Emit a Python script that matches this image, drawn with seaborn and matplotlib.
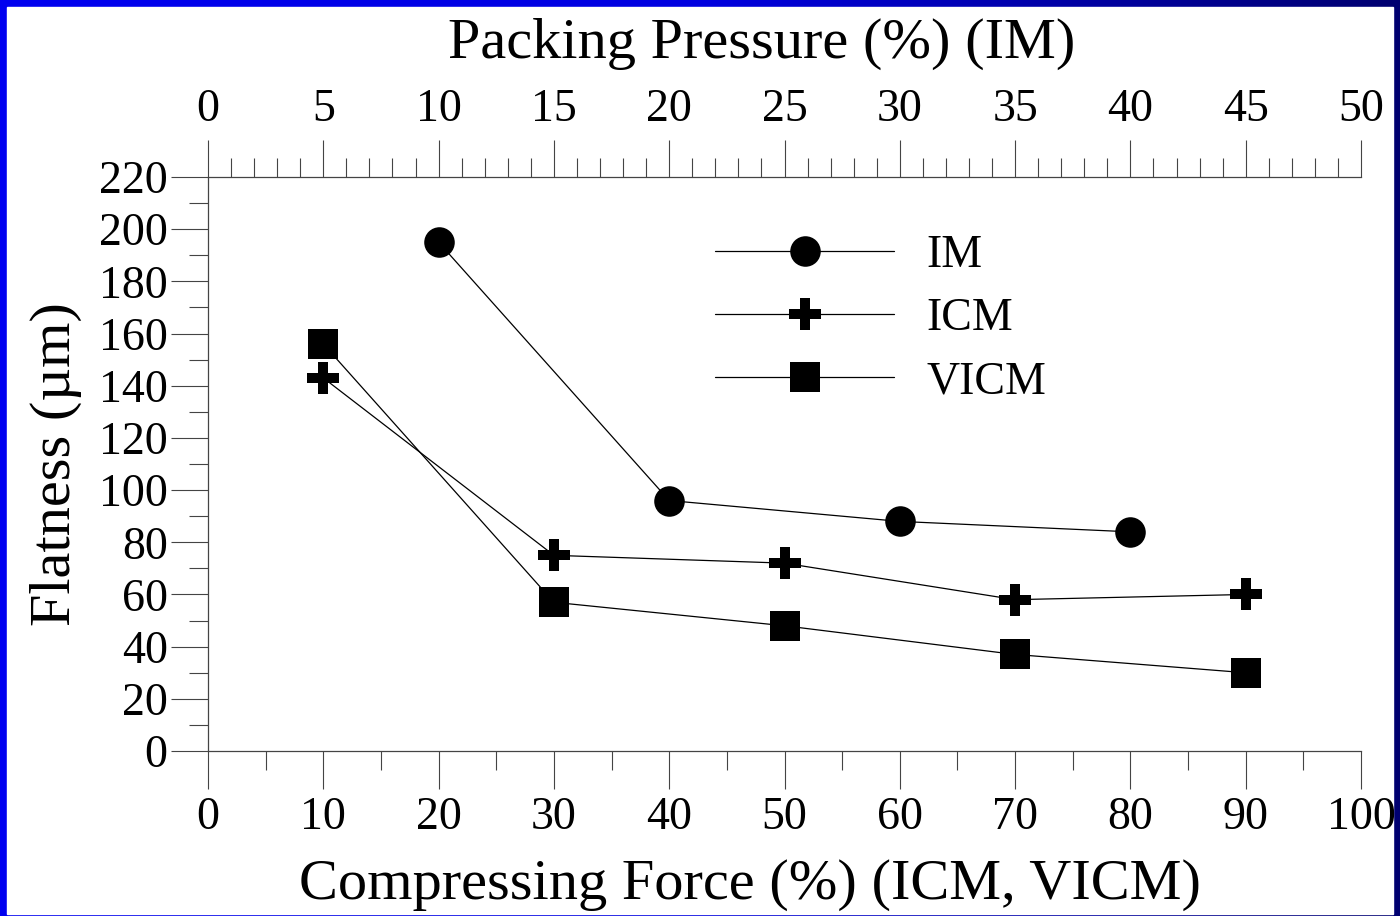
import numpy as np
import pandas as pd
import matplotlib
matplotlib.use("Agg")
import matplotlib.pyplot as plt
from matplotlib.patches import Rectangle
from matplotlib.ticker import MultipleLocator
import seaborn as sns

# 数据：IM 用上轴（保压压力），ICM / VICM 用下轴（压缩力）
im_pressure = [10, 20, 30, 40]
im_flatness = [195, 96, 88, 84]

force = [10, 30, 50, 70, 90]
icm_flatness = [143, 75, 72, 58, 60]
vicm_flatness = [156, 57, 48, 37, 30]

y_ticks = list(range(0, 221, 20))
top_ticks = list(range(0, 51, 5))
bottom_ticks = list(range(0, 101, 10))

sns.set_style("white")
plt.rcParams["font.family"] = ["Liberation Serif", "DejaVu Serif"]
plt.rcParams["text.color"] = "black"
plt.rcParams["axes.labelcolor"] = "black"

fig = plt.figure(figsize=(14, 9.16), dpi=100)

# 背景：蓝色渐变边框 + 白色内容区
bg = fig.add_axes([0, 0, 1, 1], zorder=-10)
grad = np.linspace(0, 1, 256).reshape(1, -1)
cmap = matplotlib.colors.LinearSegmentedColormap.from_list("b", ["#0000f0", "#0000e0", "#000070"])
bg.imshow(grad, aspect="auto", cmap=cmap, extent=[0, 1, 0, 1])
bg.add_patch(Rectangle((7 / 1400, 2 / 916), 1386 / 1400, 907 / 916, color="white"))
bg.set_xlim(0, 1)
bg.set_ylim(0, 1)
bg.axis("off")

ax = fig.add_axes([208 / 1400, 165 / 916, 1153 / 1400, 574 / 916])
ax.patch.set_alpha(0)
ax2 = ax.twiny()

line_kw = dict(color="black", linewidth=0.9, markeredgecolor="black", markeredgewidth=0)

sns.lineplot(x=force, y=icm_flatness, ax=ax, marker="P", markersize=23, label="ICM", legend=False, **line_kw)
sns.lineplot(x=force, y=vicm_flatness, ax=ax, marker="s", markersize=21, label="VICM", legend=False, **line_kw)
sns.lineplot(x=im_pressure, y=im_flatness, ax=ax2, marker="o", markersize=22, label="IM", legend=False, **line_kw)

spine_c = "#444444"
ax.set_xlim(0, 100)
ax.set_ylim(0, 220)
ax2.set_xlim(0, 50)

ax.set_xticks(bottom_ticks)
ax.xaxis.set_minor_locator(MultipleLocator(5))
ax.set_yticks(y_ticks)
ax.yaxis.set_minor_locator(MultipleLocator(10))
ax2.set_xticks(top_ticks)
ax2.xaxis.set_minor_locator(MultipleLocator(1))

for a in (ax, ax2):
    a.tick_params(which="major", length=27, width=0.8, color=spine_c, labelsize=33,
                  labelcolor="black", direction="out")
    a.tick_params(which="minor", length=13.5, width=0.8, color=spine_c, direction="out")
    for s in a.spines.values():
        s.set_color(spine_c)
        s.set_linewidth(0.9)
    a.spines["right"].set_visible(False)

ax.tick_params(axis="x", which="both", bottom=True, top=False, pad=6)
ax.tick_params(axis="y", which="both", left=True, right=False, pad=2)
ax2.tick_params(axis="x", which="both", top=True, bottom=False, pad=6)
ax.spines["top"].set_visible(False)
ax2.spines["top"].set_visible(True)
ax2.spines["bottom"].set_visible(False)
ax2.spines["left"].set_visible(False)

ax.set_xlabel("Compressing Force (%) (ICM, VICM)", fontsize=42, labelpad=14, x=0.47)
ax.set_ylabel("Flatness (µm)", fontsize=42, labelpad=12)
ax2.set_xlabel("Packing Pressure (%) (IM)", fontsize=42, labelpad=22, x=0.48)

handles = ax2.get_lines() + ax.get_lines()
ax2.legend(handles=handles, labels=["IM", "ICM", "VICM"], loc="upper left",
           bbox_to_anchor=(0.44, 0.90), frameon=False, fontsize=33,
           handlelength=3.9, handletextpad=0.7, labelspacing=0.45,
           borderpad=0, borderaxespad=0)

fig.savefig("out.png", dpi=100)
